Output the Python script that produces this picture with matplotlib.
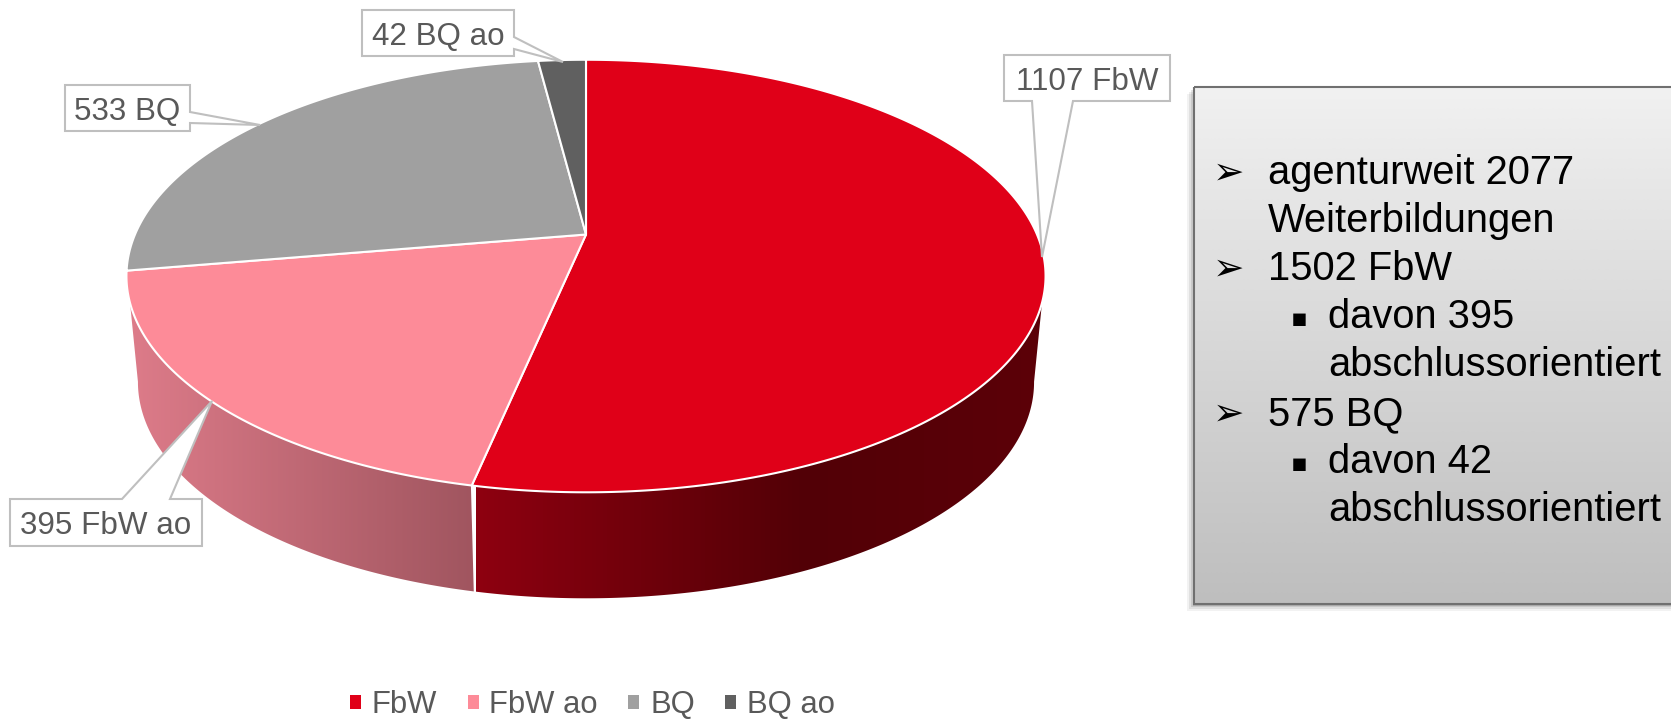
import numpy as np
import matplotlib
matplotlib.use("Agg")
import matplotlib.pyplot as plt
from matplotlib.colors import LinearSegmentedColormap
from matplotlib.patches import Patch, Polygon, Rectangle

plt.rcParams['font.family'] = ['Liberation Sans', 'DejaVu Sans']

# data
categories = ['FbW', 'FbW ao', 'BQ', 'BQ ao']
values = [1107, 395, 533, 42]
colors = ['#e00018', '#fd8b98', '#a0a0a0', '#606060']
slice_labels = ['1107 FbW', '395 FbW ao', '533 BQ', '42 BQ ao']
box_lines = [
    (0, 'agenturweit 2077', 184), (-1, 'Weiterbildungen', 232),
    (0, '1502 FbW', 280), (1, 'davon 395', 328), (-2, 'abschlussorientiert', 376),
    (0, '575 BQ', 425), (1, 'davon 42', 473), (-2, 'abschlussorientiert', 521),
]

W, H = 1671, 719
fig = plt.figure(figsize=(W / 100, H / 100), dpi=100)
ax = fig.add_axes([0, 0, 1, 1])


def top_face(theta):
    # perspective view of the unit circle, theta clockwise from 12 o'clock
    x, y = np.sin(theta), np.cos(theta)
    d = 1 + 0.192 * y
    return 586 + 451 * x / d, 234.5 - 208.3 * y / d


def bottom_face(theta):
    x, y = top_face(theta)
    return 586 + (x - 586) * 0.975, y + 106


def gradient(clip, xs, cols, vertical=False, extent=None, z=1):
    cmap = LinearSegmentedColormap.from_list('g', list(zip(xs, cols)))
    img = np.linspace(0, 1, 512)
    img = img[:, None] if vertical else img[None, :]
    im = ax.imshow(img, cmap=cmap, extent=extent, aspect='auto', zorder=z,
                   origin='upper', vmin=0, vmax=1)
    im.set_clip_path(clip)


edges = np.radians(np.concatenate([[0], np.cumsum(values)]) / sum(values) * 360)

# side wall, the outer edges run straight from the top rim to the widest point below
rad = np.radians
for t_up, t_low, xs, cols, ext in [
    (np.linspace(rad(108), edges[1], 200), np.linspace(rad(101), edges[1], 200),
     [0, 0.575, 1], ['#8e0010', '#520006', '#5c0008'], (476, 1046, 620, 250)),
    (np.linspace(edges[1], rad(252), 200), np.linspace(edges[1], rad(259), 200),
     [0, 1], ['#de7c8a', '#a0555f'], (124, 476, 620, 250)),
]:
    ux, uy = top_face(t_up)
    lx, ly = bottom_face(t_low)
    pts = np.column_stack([np.r_[ux, lx[::-1]], np.r_[uy, ly[::-1]]])
    wall = Polygon(pts, closed=True, fc='none', ec='none', transform=ax.transData)
    ax.add_patch(wall)
    gradient(wall, xs, cols, extent=ext, z=1)

# white seam on the wall between the two front slices
bx, by = bottom_face(edges[1])
tx, ty = top_face(edges[1])
ax.plot([tx, bx], [ty, by], color='white', lw=1.2, zorder=2)

# top face
for i in range(len(values)):
    t = np.linspace(edges[i], edges[i + 1], 300)
    x, y = top_face(t)
    pts = np.column_stack([np.r_[586, x], np.r_[234.5, y]])
    ax.add_patch(Polygon(pts, closed=True, fc=colors[i], ec='white', lw=1.5,
                         joinstyle='round', zorder=3))

# callouts
label_boxes = [
    (1004, 55, 1170, 101),
    (10, 499, 202, 546),
    (65, 85, 190, 131),
    (362, 10, 514, 56),
]
callouts = [
    [(1032, 101), (1042, 257), (1073, 101)],
    [(170, 499), (212, 401), (122, 499)],
    [(190, 123), (260, 125), (190, 112)],
    [(514, 49), (563, 62), (514, 37)],
]
for (x0, y0, x1, y1), ptr, lab in zip(label_boxes, callouts, slice_labels):
    c = [(x0, y0), (x1, y0), (x1, y1), (x0, y1)]
    if ptr[0][1] == y1:    # pointer on the lower edge
        outline = [c[0], c[1], c[2]] + ptr[::-1] + [c[3]]
    elif ptr[0][1] == y0:  # pointer on the upper edge
        outline = [c[0]] + ptr[::-1] + [c[1], c[2], c[3]]
    else:                  # pointer on the right edge
        outline = [c[0], c[1]] + ptr[::-1] + [c[2], c[3]]
    ax.add_patch(Polygon(outline, closed=True, fc='white', ec='#bfbfbf', lw=1.5, zorder=4))
    ax.text((x0 + x1) / 2, y0 + 35, lab, ha='center', va='baseline', fontsize=22.6,
            color='#595959', zorder=5)

# info box
bx0, by0, bx1, by1 = 1194, 87, 1680, 604
for off, a in [(7, 0.05), (5, 0.07), (3, 0.1), (1.5, 0.14)]:
    ax.add_patch(Rectangle((bx0 - off, by0 + off), bx1 - bx0, by1 - by0, fc='black', ec='none',
                           alpha=a, zorder=5))
box = Rectangle((bx0, by0), bx1 - bx0, by1 - by0, fc='none', ec='none')
ax.add_patch(box)
gradient(box, [0, 1], ['#f1f1f1', '#bebebe'], vertical=True, extent=(bx0, bx1, by1, by0), z=6)
ax.add_patch(Rectangle((bx0, by0), bx1 - bx0, by1 - by0, fc='none', ec='#707070', lw=1.5, zorder=7))

for level, line, base in box_lines:
    x = 1328 if level in (1, -2) else 1268
    ax.text(x, base, line, ha='left', va='baseline', fontsize=28.7, color='black', zorder=8)
    if level == 0:
        ax.text(1213, base, '\u27a2', ha='left', va='baseline', fontsize=27, color='black',
                family='DejaVu Sans', zorder=8)
    elif level == 1:
        ax.text(1291, base - 2, '\u25aa', ha='left', va='baseline', fontsize=18, color='black',
                family='DejaVu Sans', zorder=8)

# legend
handles = [Patch(fc=c, ec='none') for c in colors]
ax.legend(handles, categories, ncol=4, frameon=False, fontsize=22.3,
          handlelength=0.355, handleheight=0.355, handletextpad=0.35,
          columnspacing=0.98, borderpad=0, borderaxespad=0,
          labelcolor='#595959', loc='lower left',
          bbox_to_anchor=(350 / W, 1 - 720 / H))

ax.set_xlim(0, W)
ax.set_ylim(H, 0)
ax.axis('off')
fig.savefig('out.png', dpi=100)
